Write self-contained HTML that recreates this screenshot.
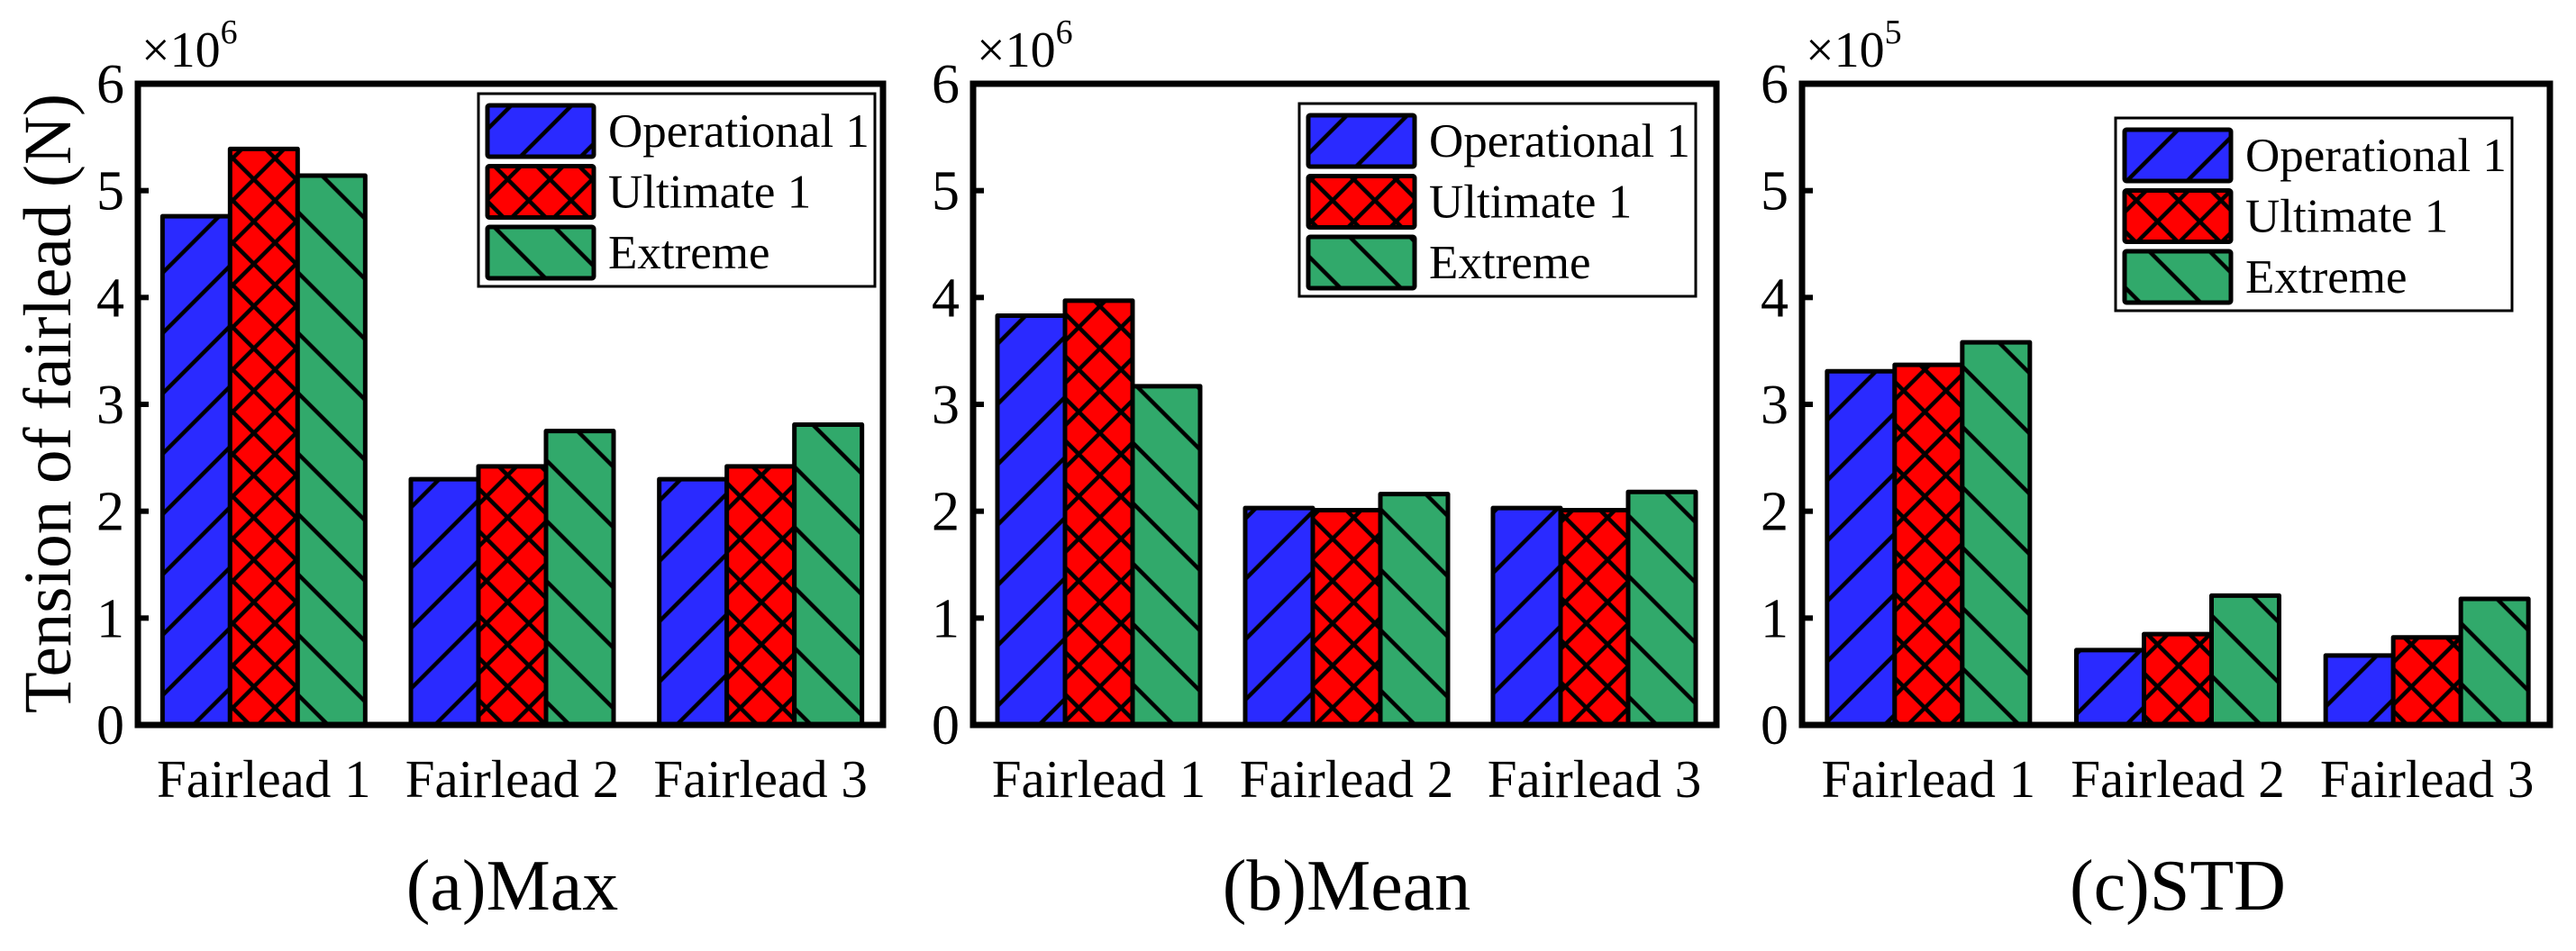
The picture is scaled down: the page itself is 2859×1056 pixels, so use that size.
<!DOCTYPE html>
<html><head><meta charset="utf-8"><style>
html,body{margin:0;padding:0;background:#fff;}
svg, svg text{font-family:"Liberation Serif","Times New Roman","DejaVu Serif","Noto Serif CJK SC",serif;}
</style></head><body>
<svg id="chart" width="2859" height="1051" viewBox="0 0 2859 1051" xmlns="http://www.w3.org/2000/svg">
<defs>
<pattern id="hatch-blue" patternUnits="userSpaceOnUse" width="47.4" height="47.4" patternTransform="rotate(45)">
<rect width="47.4" height="47.4" fill="#2a2aff"/><line x1="10" y1="0" x2="10" y2="47.4" stroke="#000" stroke-width="4.5"/></pattern>
<pattern id="hatch-red" patternUnits="userSpaceOnUse" width="33.2" height="33.2" patternTransform="rotate(45)">
<rect width="33.2" height="33.2" fill="#ff0000"/><line x1="8" y1="0" x2="8" y2="33.2" stroke="#000" stroke-width="4.5"/><line x1="0" y1="8" x2="33.2" y2="8" stroke="#000" stroke-width="4.5"/></pattern>
<pattern id="hatch-green" patternUnits="userSpaceOnUse" width="47.4" height="47.4" patternTransform="rotate(-45)">
<rect width="47.4" height="47.4" fill="#31a96b"/><line x1="20" y1="0" x2="20" y2="47.4" stroke="#000" stroke-width="4.5"/></pattern>
</defs>
<g id="root"></g>
</svg>
<script>
const categories = ["Fairlead 1", "Fairlead 2", "Fairlead 3"];
const seriesNames = ["Operational 1", "Ultimate 1", "Extreme"];
const maxOperational = [4.76, 2.30, 2.30];
const maxUltimate = [5.39, 2.42, 2.42];
const maxExtreme = [5.14, 2.75, 2.81];
const meanOperational = [3.83, 2.03, 2.03];
const meanUltimate = [3.97, 2.01, 2.01];
const meanExtreme = [3.17, 2.16, 2.18];
const stdOperational = [3.31, 0.70, 0.65];
const stdUltimate = [3.37, 0.85, 0.82];
const stdExtreme = [3.58, 1.21, 1.18];
const yTicks = [0, 1, 2, 3, 4, 5, 6];
const panelTitles = ["(a)Max", "(b)Mean", "(c)STD"];
const panelExponents = ["6", "6", "5"];

const NS = "http://www.w3.org/2000/svg";
const rootG = document.getElementById("root");
function mk(tag, attrs, parent) {
  const e = document.createElementNS(NS, tag);
  for (const k in attrs) e.setAttribute(k, attrs[k]);
  (parent || rootG).appendChild(e);
  return e;
}
const fills = ["url(#hatch-blue)", "url(#hatch-red)", "url(#hatch-green)"];
const panels = [
  {left:153, right:980, data:[maxOperational, maxUltimate, maxExtreme], leg:[531,104]},
  {left:1080, right:1905, data:[meanOperational, meanUltimate, meanExtreme], leg:[1442,115]},
  {left:2000, right:2830, data:[stdOperational, stdUltimate, stdExtreme], leg:[2348,131]}
];
const plotTop = 93, plotBottom = 805, yMax = 6;
const yScale = v => plotBottom - (v / yMax) * (plotBottom - plotTop);
const barW = 75;

panels.forEach((p, pi) => {
  const g = mk("g", {});
  
  
  const W = p.right - p.left;
  const xCenter = i => p.left + 2 + (i + 0.5) * W / 3;
  p.data.forEach((series, si) => {
    series.forEach((v, ci) => {
      const x = xCenter(ci) + (si - 1.5) * barW;
      const r = mk("rect", {x:x, y:yScale(v), width:barW, height:plotBottom - yScale(v), fill:fills[si], stroke:"#000", "stroke-width":5, "stroke-linejoin":"round"}, g);
      
      
    });
  });
  const box = mk("rect", {x:p.left, y:plotTop, width:W, height:plotBottom - plotTop, fill:"none", stroke:"#000", "stroke-width":7}, g);
  
  
  yTicks.forEach(t => {
    const y = yScale(t);
    if (t > 0 && t < yMax) {
      const tk = mk("line", {x1:p.left, x2:p.left + 12, y1:y, y2:y, stroke:"#000", "stroke-width":6}, g);
      
      
    }
    const tl = mk("text", {x:p.left - 15, y:y + 21, "font-size":62, "text-anchor":"end"}, g);
    tl.textContent = t;
    
    
  });
  const ex = mk("text", {x:p.left + 4, y:74, "font-size":56}, g);
  ex.textContent = "×10";
  
  
  const sup = mk("tspan", {dy:-26, "font-size":38}, ex);
  sup.textContent = panelExponents[pi];
  categories.forEach((c, ci) => {
    const t = mk("text", {x:xCenter(ci), y:885, "font-size":59, "text-anchor":"middle"}, g);
    t.textContent = c;
    
    
  });
  const tt = mk("text", {x:p.left + W / 2 + 2, y:1010, "font-size":80, "text-anchor":"middle"}, g);
  tt.textContent = panelTitles[pi];
  
  
  const lx = p.leg[0], ly = p.leg[1];
  const lg = mk("g", {}, g);
  
  
  mk("rect", {x:lx, y:ly, width:440, height:214, fill:"#fff", stroke:"#000", "stroke-width":3}, lg);
  seriesNames.forEach((n, si) => {
    const ry = ly + 13 + si * 67.5;
    const e = mk("g", {}, lg);
    
    
    mk("rect", {x:lx + 10, y:ry, width:118, height:57, fill:fills[si], stroke:"#000", "stroke-width":5, rx:2}, e);
    const lt = mk("text", {x:lx + 144, y:ry + 46, "font-size":53}, e);
    lt.textContent = n;
  });
});
const yt = mk("text", {x:0, y:0, "font-size":75, "text-anchor":"middle", transform:"translate(78,448) rotate(-90)"});
yt.textContent = "Tension of fairlead (N)";


</script>
</body></html>
